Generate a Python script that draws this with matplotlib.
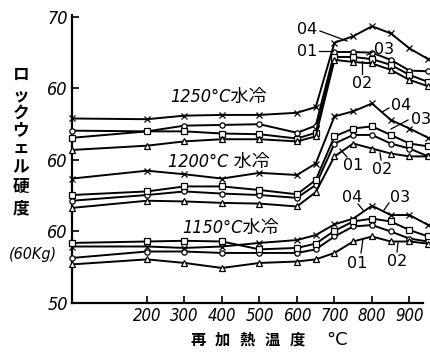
import matplotlib
matplotlib.use("Agg")
import matplotlib.pyplot as plt

# ---------------- data ----------------
temps = [0, 200, 300, 400, 500, 600, 650, 700, 750, 800, 850, 900, 950]

# 1250 C water quench (plotted with +20 offset)
h1250_04 = [55.8, 55.7, 56.2, 56.3, 56.3, 56.6, 57.4, 66.4, 67.3, 68.7, 67.7, 65.6, 64.1]
h1250_01 = [54.1, 54.0, 54.8, 54.9, 55.0, 53.8, 54.8, 65.1, 65.1, 65.0, 64.0, 62.5, 62.4]
h1250_03 = [53.1, 54.0, 54.0, 53.7, 53.6, 53.0, 53.8, 64.4, 64.4, 64.1, 63.3, 61.9, 60.9]
h1250_02 = [51.4, 52.0, 52.6, 52.9, 52.9, 52.6, 53.3, 64.0, 63.7, 63.5, 62.6, 61.2, 60.3]

# 1200 C water quench (plotted with +10 offset)
h1200_04 = [57.4, 58.5, 58.0, 57.4, 58.2, 57.9, 59.5, 66.1, 66.8, 67.9, 65.6, 64.4, 63.1]
h1200_03 = [55.1, 55.6, 56.3, 56.3, 55.8, 55.2, 57.2, 63.3, 64.4, 64.7, 63.5, 62.3, 61.9]
h1200_01 = [54.3, 55.1, 55.6, 55.3, 55.1, 54.7, 56.5, 62.3, 63.5, 63.5, 62.3, 61.6, 60.5]
h1200_02 = [53.3, 54.3, 54.2, 54.0, 53.9, 53.5, 55.5, 60.5, 62.3, 61.6, 60.9, 60.5, 60.5]

# 1150 C water quench (no offset)
h1150_04 = [57.9, 57.9, 57.7, 57.9, 58.4, 58.8, 59.5, 61.0, 61.8, 63.6, 62.3, 62.3, 60.9]
h1150_03 = [58.4, 58.6, 58.7, 58.6, 57.5, 57.7, 58.3, 60.1, 61.4, 61.8, 61.4, 60.2, 59.3]
h1150_01 = [56.3, 57.2, 57.2, 57.0, 57.0, 57.0, 57.5, 59.3, 60.7, 60.9, 60.0, 59.0, 58.6]
h1150_02 = [55.4, 56.1, 55.6, 54.9, 55.6, 55.8, 56.1, 57.0, 58.6, 59.3, 58.6, 58.6, 58.3]

group_offsets = {"1250": 20, "1200": 10, "1150": 0}
series_names = ["04", "01", "03", "02"]
markers = {"04": "x", "01": "o", "03": "s", "02": "^"}

ytick_pos = [50, 60, 70, 80, 90]
ytick_labels = ["50", "60", "60", "60", "70"]
xtick_pos = [200, 300, 400, 500, 600, 700, 800, 900]
xtick_labels = ["200", "300", "400", "500", "600", "700", "800", "900"]

# ---------------- figure ----------------
W, H = 431, 354
fig = plt.figure(figsize=(W / 100, H / 100), dpi=100)
fig.patch.set_facecolor("white")


def P(x, y):
    return (x / W, 1 - y / H)


ax_left, ax_right = 72, 422.6
ax_bottom, ax_top = 303, 14.8
ax = fig.add_axes([ax_left / W, 1 - ax_bottom / H,
                   (ax_right - ax_left) / W, (ax_bottom - ax_top) / H])
ax.set_xlim(0, 935)
ax.set_ylim(50, 90.3)

groups = {
    "1250": {"04": h1250_04, "01": h1250_01, "03": h1250_03, "02": h1250_02},
    "1200": {"04": h1200_04, "01": h1200_01, "03": h1200_03, "02": h1200_02},
    "1150": {"04": h1150_04, "01": h1150_01, "03": h1150_03, "02": h1150_02},
}

for g, ser in groups.items():
    off = group_offsets[g]
    for name in series_names:
        vals = [v + off for v in ser[name]]
        m = markers[name]
        ax.plot(temps, vals, color="black", lw=1.4, marker=m,
                markersize=3.8 if m != "x" else 4.5,
                markerfacecolor="white", markeredgecolor="black",
                markeredgewidth=0.9, clip_on=False, zorder=3)

for s in ["top", "right"]:
    ax.spines[s].set_visible(False)
for s in ["left", "bottom"]:
    ax.spines[s].set_linewidth(1.6)

numprops = dict(family="DejaVu Sans", style="oblique", stretch="condensed")
ax.set_yticks(ytick_pos)
ax.set_yticklabels(ytick_labels, fontsize=13, **numprops)
ax.set_xticks(xtick_pos)
ax.set_xticklabels(xtick_labels, fontsize=12, **numprops)
ax.tick_params(axis="both", direction="in", length=5, width=1.2, color="black")
ax.tick_params(axis="y", pad=3)
ax.tick_params(axis="x", pad=3)

cjk = ["Noto Sans CJK JP", "DejaVu Sans"]

# y axis label (vertical, stacked characters)
ylab_chars = [("ロ", 75), ("ッ", 96), ("ク", 113), ("ウ", 130), ("ェ", 148),
              ("ル", 167), ("硬", 187), ("度", 208)]
for ch, yy in ylab_chars:
    fig.text(*P(21, yy), ch, family=cjk, fontsize=12, ha="center", va="center",
             fontweight="bold")
fig.text(*P(33, 254), "(60Kg)", fontsize=11.5, ha="center", va="center", **numprops)

# x axis label
xlab_chars = [("再", 198), ("加", 222), ("熱", 247), ("温", 272), ("度", 297)]
for ch, xx in xlab_chars:
    fig.text(*P(xx, 340), ch, family=cjk, fontsize=11, ha="center", va="center",
             fontweight="bold")
fig.text(*P(337, 340), "°C", family="DejaVu Sans", fontsize=13, ha="center",
         va="center")

# group labels
grp_text = [("1250°C水冷", 170, 97), ("1200°C 水冷", 168, 162), ("1150°C水冷", 182, 228)]
for t, xx, yy in grp_text:
    fig.text(*P(xx, yy), t, family=["DejaVu Sans", "Noto Sans CJK JP"],
             style="oblique", stretch="condensed", fontsize=13,
             ha="left", va="center")

# series labels with leader lines (pixel positions)
labels = [
    ("04", (307, 29), (320, 31), (347, 41)),
    ("01", (307, 51), (319, 51), (333, 51)),
    ("03", (384, 49), (373, 52), (367, 55)),
    ("02", (362, 83), (362, 74), (362, 61)),
    ("04", (401, 105), (389, 108), (382, 112)),
    ("03", (421, 119), (408, 120), (391, 129)),
    ("01", (353, 166), (347, 157), (340, 149)),
    ("02", (382, 170), (381, 160), (380, 153)),
    ("04", (352, 197), (358, 204), (363, 210)),
    ("03", (400, 197), (389, 203), (384, 210)),
    ("01", (357, 263), (361, 253), (363, 239)),
    ("02", (397, 262), (397, 252), (398, 243)),
]
for t, tp, a, b in labels:
    fig.text(*P(*tp), t, fontsize=11.5, family="DejaVu Sans", ha="center",
             va="center")
    fig.add_artist(plt.Line2D([a[0] / W, b[0] / W], [1 - a[1] / H, 1 - b[1] / H],
                              color="black", lw=0.9, transform=fig.transFigure))

fig.savefig("out.png", dpi=100, facecolor="white")
